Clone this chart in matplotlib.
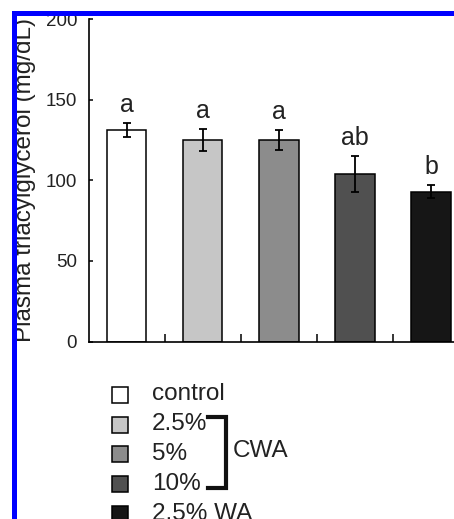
import matplotlib
matplotlib.use("Agg")
import matplotlib.pyplot as plt
from matplotlib.patches import Rectangle
from matplotlib.lines import Line2D

plt.rcParams['font.family'] = ['Liberation Sans', 'DejaVu Sans']

# Data
groups = ["control", "2.5% CWA", "5% CWA", "10% CWA", "2.5% WA"]
values = [131, 125, 125, 104, 93]
errors = [4.3, 7, 6, 11, 4]
letters = ["a", "a", "a", "ab", "b"]
bar_colors = ["#ffffff", "#c6c6c6", "#8c8c8c", "#505050", "#161616"]
legend_labels = ["control", "2.5%", "5%", "10%", "2.5% WA"]
yticks = [0, 50, 100, 150, 200]

W, H = 454, 519
fig = plt.figure(figsize=(W / 100, H / 100), dpi=100)

ax_left, ax_right = 89, 454
ax_top, ax_bottom = 19, 341.5
ax = fig.add_axes([ax_left / W, 1 - ax_bottom / H, (ax_right - ax_left) / W, (ax_bottom - ax_top) / H])

x = list(range(len(values)))
ax.bar(x, values, width=0.52, color=bar_colors, edgecolor="black", linewidth=1.1, zorder=2)
ax.errorbar(x, values, yerr=errors, fmt="none", ecolor="black", elinewidth=1.3,
            capsize=3, capthick=1.3, zorder=3)
for xi, v, e, lab in zip(x, values, errors, letters):
    ax.annotate(lab, (xi, v + e), xytext=(0, 13), textcoords="offset points",
                ha="center", va="center", fontsize=18, color="#222222")

ax.set_ylim(0, 200)
ax.set_xlim(-0.493, 4.30)
ax.set_yticks(yticks)
ax.set_yticklabels([str(t) for t in yticks], fontsize=13.5, color="#222222")
ax.set_xticks([0.5, 1.5, 2.5, 3.5])
ax.set_xticklabels([])
ax.tick_params(axis="x", direction="in", length=6, width=1.1)
ax.tick_params(axis="y", direction="in", length=3, width=1.1, pad=8.5)
for s in ["top", "right"]:
    ax.spines[s].set_visible(False)
for s in ["left", "bottom"]:
    ax.spines[s].set_linewidth(1.2)

fig.text(25 / W, 1 - 180 / H, "Plasma triacylglycerol (mg/dL)", rotation=90,
         ha="center", va="center", fontsize=17.5, color="#222222")

# Legend drawn manually
row_y = [394.5, 424.5, 454, 483.5, 513.5]
for yc, col, lab in zip(row_y, bar_colors, legend_labels):
    sq = 16
    fig.add_artist(Rectangle((112 / W, 1 - (yc + sq / 2) / H), sq / W, sq / H,
                             transform=fig.transFigure, facecolor=col,
                             edgecolor="black", linewidth=1.1))
    fig.text(152 / W, 1 - yc / H, lab, ha="left", va="center", fontsize=17.5, color="#222222")

# bracket
bx = 226
fig.add_artist(Line2D([208 / W, bx / W, bx / W, 208 / W],
                      [1 - 417 / H, 1 - 417 / H, 1 - 488 / H, 1 - 488 / H],
                      transform=fig.transFigure, color="#111111", linewidth=3,
                      solid_joinstyle="miter"))
fig.text(233 / W, 1 - 451 / H, "CWA", ha="left", va="center", fontsize=17.5, color="#222222")

# blue border
fig.add_artist(Rectangle((12 / W, 0), 5 / W, 1 - 11 / H, transform=fig.transFigure,
                         facecolor="#0000ff", edgecolor="none", zorder=10))
fig.add_artist(Rectangle((12 / W, 1 - 16 / H), 1 - 12 / W, 5 / H, transform=fig.transFigure,
                         facecolor="#0000ff", edgecolor="none", zorder=10))

fig.savefig("out.png", dpi=100)
